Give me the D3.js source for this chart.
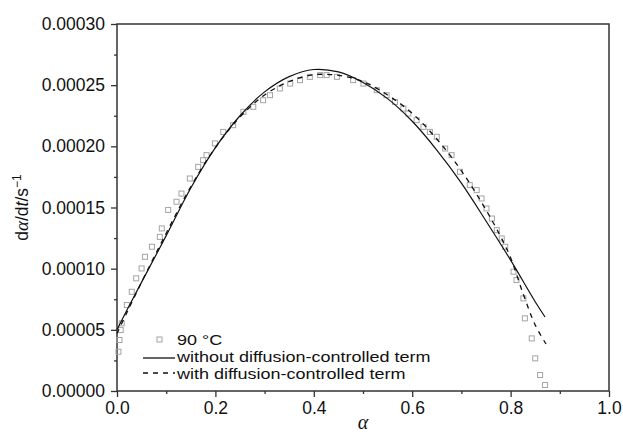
<!DOCTYPE html>
<html>
<head>
<meta charset="utf-8">
<script src="https://cdn.jsdelivr.net/npm/d3@7"></script>
<style>
  body { margin: 0; background: #fff; }
  svg text { font-family: "Liberation Sans", Arial, sans-serif; fill: #111; }
</style>
</head>
<body>
<svg id="chart" width="623" height="436"></svg>
<script>
const margin = { top: 24, right: 14, bottom: 45, left: 117 };

const xTicks = [0.0, 0.2, 0.4, 0.6, 0.8, 1.0];
const yTicks = [0, 0.00005, 0.0001, 0.00015, 0.0002, 0.00025, 0.0003];

// without diffusion-controlled term
const solidAlpha = [0.00, 0.02, 0.05, 0.10, 0.15, 0.20, 0.25, 0.30, 0.35, 0.40, 0.45, 0.50, 0.55, 0.60, 0.65, 0.70, 0.75, 0.80, 0.85, 0.87];
const solidRate = [0.0000500, 0.0000660, 0.0000890, 0.0001270, 0.0001660, 0.0001990, 0.0002250, 0.0002445, 0.0002570, 0.0002628, 0.0002608, 0.0002522, 0.0002390, 0.0002205, 0.0001970, 0.0001700, 0.0001390, 0.0001070, 0.0000730, 0.0000605];

// with diffusion-controlled term
const dashedAlpha = [0.00, 0.02, 0.05, 0.10, 0.15, 0.20, 0.25, 0.30, 0.35, 0.40, 0.45, 0.50, 0.55, 0.60, 0.65, 0.70, 0.75, 0.78, 0.80, 0.825, 0.85, 0.872];
const dashedRate = [0.0000470, 0.0000640, 0.0000890, 0.0001290, 0.0001670, 0.0001990, 0.0002240, 0.0002420, 0.0002530, 0.0002585, 0.0002580, 0.0002530, 0.0002420, 0.0002270, 0.0002060, 0.0001800, 0.0001480, 0.0001260, 0.0001090, 0.0000800, 0.0000540, 0.0000384];

// 90 °C measured points
const expAlpha = [0.003, 0.005, 0.0075, 0.0095, 0.020, 0.030, 0.039, 0.050, 0.057, 0.071, 0.087, 0.091, 0.104, 0.121, 0.131, 0.148, 0.165, 0.175, 0.182, 0.199, 0.216, 0.236, 0.257, 0.277, 0.297, 0.311, 0.331, 0.352, 0.372, 0.392, 0.413, 0.426, 0.447, 0.480, 0.501, 0.528, 0.548, 0.565, 0.582, 0.592, 0.609, 0.623, 0.636, 0.650, 0.667, 0.680, 0.697, 0.717, 0.731, 0.741, 0.751, 0.762, 0.772, 0.782, 0.789, 0.806, 0.812, 0.826, 0.829, 0.843, 0.850, 0.860, 0.870];
const expRate = [0.0000321, 0.0000417, 0.0000498, 0.0000553, 0.0000703, 0.0000811, 0.0000921, 0.0001002, 0.0001097, 0.0001179, 0.0001260, 0.0001329, 0.0001480, 0.0001547, 0.0001614, 0.0001737, 0.0001832, 0.0001887, 0.0001928, 0.0002024, 0.0002118, 0.0002173, 0.0002282, 0.0002323, 0.0002377, 0.0002418, 0.0002473, 0.0002513, 0.0002541, 0.0002568, 0.0002582, 0.0002582, 0.0002568, 0.0002541, 0.0002513, 0.0002459, 0.0002418, 0.0002363, 0.0002309, 0.0002268, 0.0002214, 0.0002159, 0.0002118, 0.0002078, 0.0001982, 0.0001928, 0.0001792, 0.0001683, 0.0001642, 0.0001574, 0.0001492, 0.0001410, 0.0001315, 0.0001247, 0.0001179, 0.0000975, 0.0000907, 0.0000757, 0.0000594, 0.0000430, 0.0000267, 0.0000131, 0.0000049];

const legendLabels = ['90 \u00B0C', 'without diffusion-controlled term', 'with diffusion-controlled term'];

const width = 623, height = 436;
const w = width - margin.left - margin.right;
const h = height - margin.top - margin.bottom;

const svg = d3.select('#chart');
const g = svg.append('g').attr('transform', 'translate(' + margin.left + ',' + margin.top + ')');

const x = d3.scaleLinear().domain([0, 1]).range([0, w]);
const y = d3.scaleLinear().domain([0, 0.0003]).range([h, 0]);

// minor ticks
const xMinor = d3.axisBottom(x).tickValues(d3.range(0.1, 1, 0.2)).tickSize(3).tickFormat('');
const yMinor = d3.axisLeft(y).tickValues(d3.range(0.000025, 0.0003, 0.00005)).tickSize(3).tickFormat('');
g.append('g').attr('transform', 'translate(0,' + h + ')').call(xMinor);
g.append('g').call(yMinor);

const xAxis = d3.axisBottom(x).tickValues(xTicks).tickSize(6).tickPadding(5).tickFormat(d3.format('.1f'));
const yAxis = d3.axisLeft(y).tickValues(yTicks).tickSize(6).tickPadding(6).tickFormat(d3.format('.5f'));

g.append('g').attr('class', 'x axis').attr('transform', 'translate(0,' + h + ')').call(xAxis);
g.append('g').attr('class', 'y axis').call(yAxis);

g.selectAll('.axis text').style('font-size', '17.5px').style('fill', '#111');
g.selectAll('.tick line').attr('stroke', '#333').attr('stroke-width', 1.3);
g.selectAll('.domain').attr('stroke', 'none');

// frame
g.append('rect')
  .attr('x', 0).attr('y', 0).attr('width', w).attr('height', h)
  .attr('fill', 'none').attr('stroke', '#333').attr('stroke-width', 1.5);

// experimental squares
const expData = expAlpha.map((a, i) => ({ a: a, r: expRate[i] }));
g.selectAll('.pt')
  .data(expData)
  .enter().append('rect')
  .attr('class', 'pt')
  .attr('x', d => x(d.a) - 2.5)
  .attr('y', d => y(d.r) - 2.5)
  .attr('width', 5)
  .attr('height', 5)
  .attr('fill', 'none')
  .attr('stroke', '#a4a4a4')
  .attr('stroke-width', 1);

const line = d3.line()
  .x(d => x(d.a))
  .y(d => y(d.r))
  .curve(d3.curveCatmullRom.alpha(0.5));

const solidData = solidAlpha.map((a, i) => ({ a: a, r: solidRate[i] }));
const dashedData = dashedAlpha.map((a, i) => ({ a: a, r: dashedRate[i] }));

g.append('path').datum(dashedData)
  .attr('d', line).attr('fill', 'none')
  .attr('stroke', '#111').attr('stroke-width', 1.3)
  .attr('stroke-dasharray', '5,5');

g.append('path').datum(solidData)
  .attr('d', line).attr('fill', 'none')
  .attr('stroke', '#111').attr('stroke-width', 1.2);

// legend
const lg = svg.append('g').attr('transform', 'translate(143,339)');
lg.append('rect').attr('x', 14).attr('y', -2).attr('width', 5).attr('height', 5)
  .attr('fill', 'none').attr('stroke', '#a4a4a4').attr('stroke-width', 1);
lg.append('line').attr('x1', 0).attr('x2', 32).attr('y1', 19).attr('y2', 19)
  .attr('stroke', '#111').attr('stroke-width', 1.3);
lg.append('line').attr('x1', 0).attr('x2', 32).attr('y1', 34).attr('y2', 34)
  .attr('stroke', '#111').attr('stroke-width', 1.3).attr('stroke-dasharray', '5,5');
lg.selectAll('text.lab')
  .data(legendLabels)
  .enter().append('text')
  .attr('class', 'lab')
  .attr('transform', (d, i) => 'translate(34,' + (6 + i * 17) + ') scale(1.2,1)')
  .style('font-size', '15px')
  .text(d => d);

// axis titles
svg.append('text')
  .attr('x', margin.left + w / 2)
  .attr('y', 429)
  .attr('text-anchor', 'middle')
  .style('font-family', '"Liberation Serif", serif')
  .style('font-style', 'italic')
  .style('font-size', '20px')
  .text('\u03B1');

const yl = svg.append('text')
  .attr('transform', 'translate(28,' + (margin.top + h / 2) + ') rotate(-90)')
  .attr('text-anchor', 'middle')
  .style('font-size', '17.5px');
yl.append('tspan').text('d');
yl.append('tspan').style('font-family', '"Liberation Serif", serif').style('font-style', 'italic').style('font-size', '19px').text('\u03B1');
yl.append('tspan').text('/d');
yl.append('tspan').style('font-style', 'italic').text('t');
yl.append('tspan').text('/s');
yl.append('tspan').attr('dy', -7).style('font-size', '12px').text('\u22121');
</script>
</body>
</html>
